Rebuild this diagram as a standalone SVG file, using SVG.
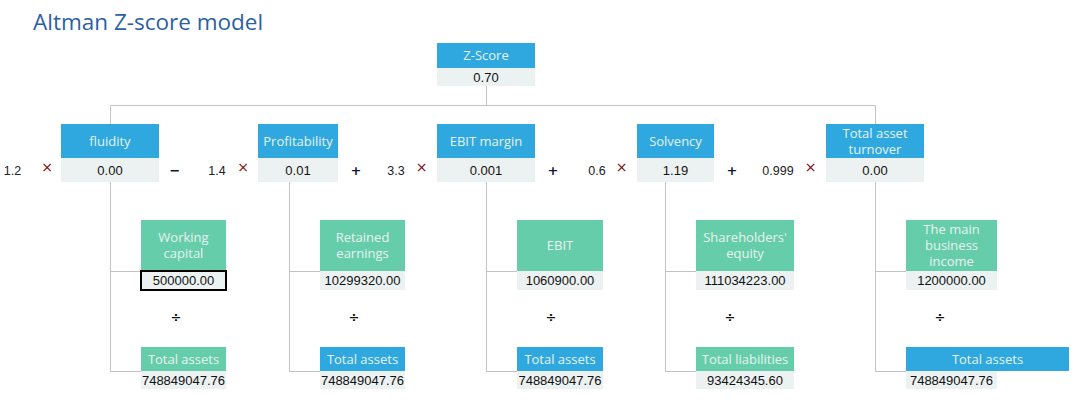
<svg xmlns="http://www.w3.org/2000/svg" width="1075" height="399" viewBox="0 0 1075 399">
<style>
.bl{fill:#2fa8e0}
.gr{fill:#66cdaa}
.vb{fill:#ecf2f2}
.ht{font-family:"Open Sans","Liberation Sans",sans-serif;font-size:13px;fill:#e6f3f1;text-anchor:middle}
.vt{font-family:"Liberation Sans",Arial,sans-serif;font-size:13px;fill:#111;text-anchor:middle}
.cf{font-family:"Liberation Sans",Arial,sans-serif;font-size:12.5px;fill:#222;text-anchor:middle}
.mul{font-family:"DejaVu Sans",sans-serif;font-size:14px;fill:#7a0a0a;text-anchor:middle}
.op{font-family:"DejaVu Sans",sans-serif;font-size:13px;font-weight:bold;fill:#141433;text-anchor:middle}
.dv{font-family:"DejaVu Sans",sans-serif;font-size:13px;font-weight:bold;fill:#111;text-anchor:middle}
.ln{fill:none;stroke:#c3c3c3;stroke-width:1}
</style>
<rect width="1075" height="399" fill="#ffffff"/>
<text x="33" y="30" font-family="'Open Sans','Liberation Sans',sans-serif" font-size="22.5" fill="#2d5fa8">Altman Z-score model</text>

<g id="connectors" class="ln">
<path d="M486.5,86 V105.5 M110.5,105.5 H875.5 M110.5,105.5 V124 M875.5,105.5 V124"/>
<path d="M110.5,182 V371.5 M110.5,271.5 H141 M110.5,371.5 H141"/>
<path d="M289.5,182 V371.5 M289.5,271.5 H320 M289.5,371.5 H320"/>
<path d="M486.5,182 V371.5 M486.5,271.5 H517 M486.5,371.5 H517"/>
<path d="M665.5,182 V371.5 M665.5,271.5 H696 M665.5,371.5 H696"/>
<path d="M875.5,182 V371.5 M875.5,271.5 H906 M875.5,371.5 H906"/>
</g>

<g id="zscore">
<rect class="bl" x="437" y="43" width="98" height="25"/>
<rect class="vb" x="437" y="68" width="98" height="18"/>
<text class="ht" x="486" y="60">Z-Score</text>
<text class="vt" x="486" y="81.5">0.70</text>
</g>

<g id="fluidity">
<rect class="bl" x="61" y="124" width="98" height="34"/>
<rect class="vb" x="61" y="158" width="98" height="24"/>
<text class="ht" x="110" y="145.5">fluidity</text>
<text class="vt" x="110" y="174.5">0.00</text>
</g>
<g id="profitability">
<rect class="bl" x="258" y="124" width="80" height="34"/>
<rect class="vb" x="258" y="158" width="80" height="24"/>
<text class="ht" x="298" y="145.5">Profitability</text>
<text class="vt" x="298" y="174.5">0.01</text>
</g>
<g id="ebit-margin">
<rect class="bl" x="437" y="124" width="98" height="34"/>
<rect class="vb" x="437" y="158" width="98" height="24"/>
<text class="ht" x="486" y="145.5">EBIT margin</text>
<text class="vt" x="486" y="174.5">0.001</text>
</g>
<g id="solvency">
<rect class="bl" x="637" y="124" width="77" height="34"/>
<rect class="vb" x="637" y="158" width="77" height="24"/>
<text class="ht" x="675.5" y="145.5">Solvency</text>
<text class="vt" x="675.5" y="174.5">1.19</text>
</g>
<g id="total-asset-turnover">
<rect class="bl" x="826" y="124" width="98" height="34"/>
<rect class="vb" x="826" y="158" width="98" height="24"/>
<text class="ht" x="875" y="138">Total asset</text>
<text class="ht" x="875" y="154">turnover</text>
<text class="vt" x="875" y="174.5">0.00</text>
</g>

<g id="formula">
<text class="cf" x="12.5" y="174.5">1.2</text>
<text class="mul" x="47" y="172">×</text>
<text class="op" x="175" y="174.5">−</text>
<text class="cf" x="217" y="174.5">1.4</text>
<text class="mul" x="243" y="172">×</text>
<text class="op" x="356" y="174.5">+</text>
<text class="cf" x="396" y="174.5">3.3</text>
<text class="mul" x="421.5" y="172">×</text>
<text class="op" x="553" y="174.5">+</text>
<text class="cf" x="597" y="174.5">0.6</text>
<text class="mul" x="621.5" y="172">×</text>
<text class="op" x="732" y="174.5">+</text>
<text class="cf" x="778" y="174.5">0.999</text>
<text class="mul" x="810.5" y="172">×</text>
</g>

<g id="working-capital">
<rect class="gr" x="141" y="220" width="85" height="51"/>
<rect class="vb" x="141" y="271" width="85" height="19"/>
<rect x="141" y="271" width="85" height="19" fill="none" stroke="#000" stroke-width="2"/>
<text class="ht" x="183.5" y="241.5">Working</text>
<text class="ht" x="183.5" y="257.5">capital</text>
<text class="vt" x="183.5" y="285">500000.00</text>
</g>
<g id="retained-earnings">
<rect class="gr" x="320" y="220" width="85" height="51"/>
<rect class="vb" x="320" y="271" width="85" height="19"/>
<text class="ht" x="362.5" y="241.5">Retained</text>
<text class="ht" x="362.5" y="257.5">earnings</text>
<text class="vt" x="362.5" y="285">10299320.00</text>
</g>
<g id="ebit">
<rect class="gr" x="517" y="220" width="86" height="51"/>
<rect class="vb" x="517" y="271" width="86" height="19"/>
<text class="ht" x="560" y="250">EBIT</text>
<text class="vt" x="560" y="285">1060900.00</text>
</g>
<g id="shareholders-equity">
<rect class="gr" x="696" y="220" width="98" height="51"/>
<rect class="vb" x="696" y="271" width="98" height="19"/>
<text class="ht" x="745" y="241.5">Shareholders'</text>
<text class="ht" x="745" y="257.5">equity</text>
<text class="vt" x="745" y="285">111034223.00</text>
</g>
<g id="main-business-income">
<rect class="gr" x="906" y="220" width="91" height="51"/>
<rect class="vb" x="906" y="271" width="91" height="19"/>
<text class="ht" x="951.5" y="234">The main</text>
<text class="ht" x="951.5" y="250">business</text>
<text class="ht" x="951.5" y="266">income</text>
<text class="vt" x="951.5" y="285">1200000.00</text>
</g>

<g id="divide">
<text class="dv" x="176" y="321.5">÷</text>
<text class="dv" x="354" y="321.5">÷</text>
<text class="dv" x="551" y="321.5">÷</text>
<text class="dv" x="730" y="321.5">÷</text>
<text class="dv" x="940" y="321.5">÷</text>
</g>

<g id="total-assets-1">
<rect class="gr" x="141" y="347" width="85" height="24"/>
<rect class="vb" x="141" y="371" width="85" height="18"/>
<text class="ht" x="183.5" y="364">Total assets</text>
<text class="vt" x="183.5" y="385">748849047.76</text>
</g>
<g id="total-assets-2">
<rect class="bl" x="320" y="347" width="85" height="24"/>
<rect class="vb" x="320" y="371" width="85" height="18"/>
<text class="ht" x="362.5" y="364">Total assets</text>
<text class="vt" x="362.5" y="385">748849047.76</text>
</g>
<g id="total-assets-3">
<rect class="bl" x="517" y="347" width="86" height="24"/>
<rect class="vb" x="517" y="371" width="86" height="18"/>
<text class="ht" x="560" y="364">Total assets</text>
<text class="vt" x="560" y="385">748849047.76</text>
</g>
<g id="total-liabilities">
<rect class="gr" x="696" y="347" width="98" height="24"/>
<rect class="vb" x="696" y="371" width="98" height="18"/>
<text class="ht" x="745" y="364">Total liabilities</text>
<text class="vt" x="745" y="385">93424345.60</text>
</g>
<g id="total-assets-5">
<rect class="bl" x="906" y="347" width="163" height="24"/>
<rect class="vb" x="906" y="371" width="91" height="18"/>
<text class="ht" x="987.5" y="364">Total assets</text>
<text class="vt" x="951.5" y="385">748849047.76</text>
</g>
</svg>
